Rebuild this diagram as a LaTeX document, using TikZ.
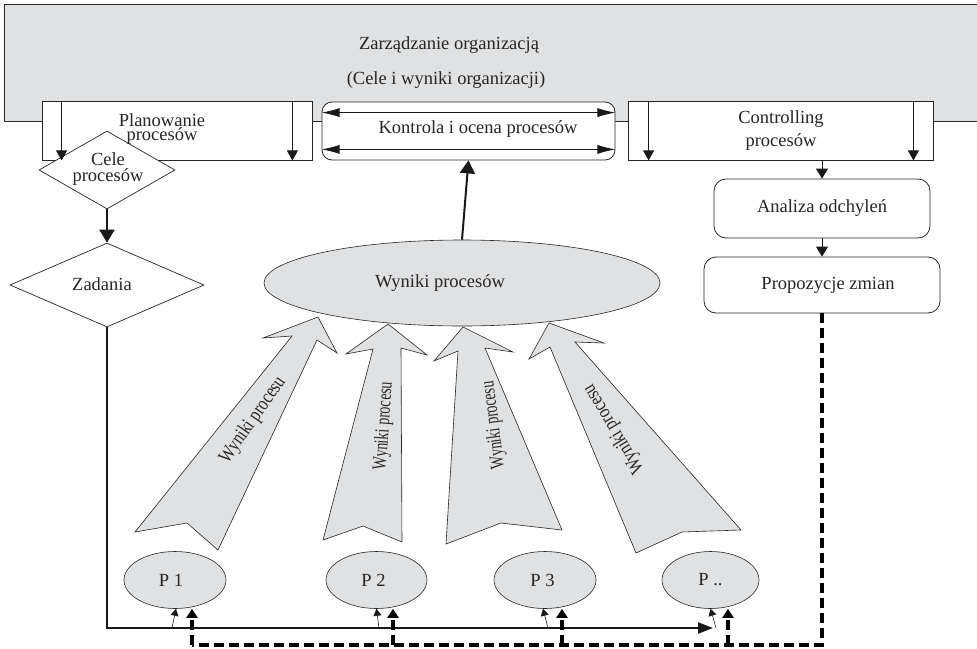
\documentclass[tikz,border=0pt]{standalone}
\usepackage{fontspec}
\setmainfont{Liberation Serif}
\newfontfamily\condfont{Liberation Serif}[FakeStretch=0.7]
\newfontfamily\semifont{Liberation Serif}[FakeStretch=0.8]
\usetikzlibrary{arrows.meta,shapes.geometric,calc}
\definecolor{boxgrey}{RGB}{224,225,227}
\begin{document}
\begin{tikzpicture}[x=1pt,y=-1pt,
  every node/.style={font=\fontsize{18.5}{20}\selectfont, inner sep=0pt, text=black!85},
  plainbox/.style={draw=black!85, line width=0.8pt, fill=white, rectangle},
  pell/.style={ellipse, draw=black!85, line width=0.6pt, fill=boxgrey, minimum height=57pt},
  bigarrow/.style={draw=black!85, line width=0.6pt, fill=boxgrey},
  arrlabel/.style={font=\semifont\fontsize{20}{20}\selectfont},
  carrlabel/.style={font=\condfont\fontsize{20}{20}\selectfont},
  thinarr/.style={line width=0.7pt, draw=black!90, -{Triangle[length=10pt,width=11pt]}},
  thickarr/.style={line width=2pt, draw=black!90, -{Triangle[length=13pt,width=15pt]}},
  medarr/.style={line width=0.9pt, draw=black!90, -{Triangle[length=10pt,width=12pt]}},
  smallarr/.style={line width=0.6pt, draw=black!90, -{Triangle[length=7pt,width=8pt]}},
  dashln/.style={line width=3.2pt, draw=black, dash pattern=on 10pt off 5pt},
  dasharr/.style={dashln, -{Triangle[length=9pt,width=11pt]}},
  dblarr/.style={line width=0.8pt, draw=black!90, {Latex[length=18pt,width=9pt]}-{Latex[length=18pt,width=9pt]}}
]
\useasboundingbox (0,0) rectangle (977,648);

% top grey box
\node[draw=black!85, line width=0.8pt, fill=boxgrey, minimum width=1000pt, minimum height=117pt, anchor=north west] (org) at (4,4) {};
\node (orgA) at (449,45) {Zarządzanie organizacją};
\node (orgB) at (446,80) {(Cele i wyniki organizacji)};

% three boxes
\node[plainbox, minimum width=270pt, minimum height=59pt] (plan) at (177,130.5) {};
\node[plainbox, rounded corners=10pt, minimum width=293pt, minimum height=58pt] (kon) at (468.5,131) {};
\node[plainbox, minimum width=305pt, minimum height=59pt] (con) at (780.5,130.5) {};

% diamonds
\node[diamond, draw=black!85, line width=0.7pt, fill=white, minimum width=136pt, minimum height=78pt] (cele) at (107,170) {};
\node[diamond, draw=black!85, line width=0.7pt, fill=white, minimum width=194pt, minimum height=84pt] (zad) at (107,285) {};

% texts of boxes
\node[align=center, font=\fontsize{18.5}{13}\selectfont] (planT) at (162,129) {Planowanie\\procesów};
\node (konT) at (478,129) {Kontrola i ocena procesów};
\node[align=center, font=\fontsize{18.5}{23}\selectfont] (conT) at (781,131) {Controlling\\procesów};
\node[align=center, font=\fontsize{18.5}{16}\selectfont] (celeT) at (108,169) {Cele\\procesów};
\node (zadT) at (102,284) {Zadania};

% right column
\node[plainbox, rounded corners=12pt, minimum width=216pt, minimum height=59pt] (ana) at (822,208.5) {Analiza odchyleń};
\node[plainbox, rounded corners=12pt, minimum width=236pt, minimum height=56pt] (prop) at (822,285) {\hspace{12pt}Propozycje zmian};

% results ellipse
\node[ellipse, draw=black!85, line width=0.6pt, fill=boxgrey, minimum width=396pt, minimum height=86pt] (wyn) at (462,283) {};
\node (wynT) at (440,283) {Wyniki procesów};

% process ellipses
\node[pell, minimum width=102pt] (p1) at (175,580) {\hspace{-8pt}P 1};
\node[pell, minimum width=101pt] (p2) at (376.5,580) {\hspace{-6pt}P 2};
\node[pell, minimum width=102pt] (p3) at (545,580) {\hspace{-5pt}P 3};
\node[pell, minimum width=97pt] (p4) at (710.5,580) {P ..};

% big arrows
\filldraw[bigarrow] (318,317) -- (337,353) -- (317,340) -- (218,550) -- (187,523) -- (135,532) -- (292,336) -- (263,338) -- cycle;
\filldraw[bigarrow] (388,324) -- (427,355) -- (401,348) -- (402,542) -- (363,526) -- (323,540) -- (373,349) -- (346,354) -- cycle;
\filldraw[bigarrow] (463,327) -- (513,352) -- (485,348) -- (562,530) -- (501,523) -- (446,544) -- (458,351) -- (434,361) -- cycle;
\filldraw[bigarrow] (549,323) -- (604,343) -- (575,342) -- (741,530) -- (682,532) -- (636,553) -- (550,347) -- (529,359) -- cycle;
\node[arrlabel, rotate=55] (l1) at (253,420) {Wyniki procesu};
\node[carrlabel, rotate=86] (l2) at (384,426) {Wyniki procesu};
\node[carrlabel, rotate=97] (l3) at (494,425) {Wyniki procesu};
\node[arrlabel, rotate=121] (l4) at (614,429) {Wyniki procesu};

% arrows inside boxes
\draw[thinarr] ([xshift=20pt]plan.north west) -- ([xshift=20pt]plan.south west);
\draw[thinarr] ([xshift=-20pt]plan.north east) -- ([xshift=-20pt]plan.south east);
\draw[thinarr] ([xshift=21pt]con.north west) -- ([xshift=21pt]con.south west);
\draw[thinarr] ([xshift=-20pt]con.north east) -- ([xshift=-20pt]con.south east);
\draw[dblarr] ([yshift=-11pt]kon.north west) -- ([yshift=-11pt]kon.north east);
\draw[dblarr] ([yshift=11pt]kon.south west) -- ([yshift=11pt]kon.south east);

% flow arrows
\draw[thickarr] (cele.south) -- (zad.north);
\draw[thickarr] (wyn.north) -- (kon.south);
\draw[medarr] (con.south -| ana.north) -- (ana.north);
\draw[medarr] (ana.south) -- (prop.north);

% solid task line
\coordinate (c1) at (107,628);
\coordinate (c2) at (713,628);
\draw[line width=2.2pt, draw=black!90, -{Triangle[length=15pt,width=11pt]}] (zad.south) -- (c1) -- (c2);
\coordinate (s1) at (172,628);
\coordinate (s2) at (379,628);
\coordinate (s3) at (548,628);
\coordinate (s4) at (716,628);
\draw[smallarr] (s1) -- ([xshift=1pt]p1.south);
\draw[smallarr] (s2) -- (p2.south);
\draw[smallarr] (s3) -- ([xshift=-2pt]p3.south);
\draw[smallarr] (s4) -- (p4.south);

% dashed feedback line
\coordinate (d1) at (192,645);
\coordinate (d2) at (393,645);
\coordinate (d3) at (562,645);
\coordinate (d4) at (728,645);
\draw[dashln] (prop.south) |- (d1);
\draw[dasharr] (d1) -- (d1 |- p1.south);
\draw[dasharr] (d2) -- (d2 |- p2.south);
\draw[dasharr] (d3) -- (d3 |- p3.south);
\draw[dasharr] (d4) -- (d4 |- p4.south);
\end{tikzpicture}
\end{document}
